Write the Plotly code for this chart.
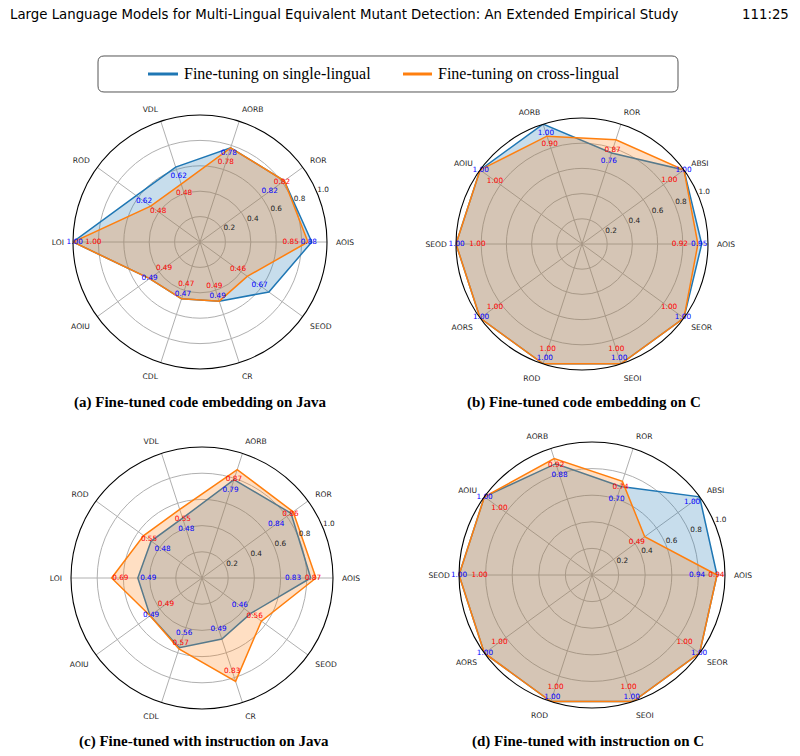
import plotly.graph_objects as go

# ---------------- data ----------------
CATS_JAVA = ["AOIS", "ROR", "AORB", "VDL", "ROD", "LOI", "AOIU", "CDL", "CR", "SEOD"]
CATS_C = ["AOIS", "ABSI", "ROR", "AORB", "AOIU", "SEOD", "AORS", "ROD", "SEOI", "SEOR"]

# (a) Fine-tuned code embedding on Java
A_SINGLE = [0.88, 0.82, 0.78, 0.62, 0.62, 1.00, 0.49, 0.47, 0.49, 0.67]
A_CROSS = [0.85, 0.82, 0.78, 0.48, 0.48, 1.00, 0.49, 0.47, 0.49, 0.46]
# (b) Fine-tuned code embedding on C
B_SINGLE = [0.95, 1.00, 0.76, 1.00, 1.00, 1.00, 1.00, 1.00, 1.00, 1.00]
B_CROSS = [0.92, 1.00, 0.87, 0.90, 1.00, 1.00, 1.00, 1.00, 1.00, 1.00]
# (c) Fine-tuned with instruction on Java
C_SINGLE = [0.83, 0.84, 0.79, 0.48, 0.48, 0.49, 0.49, 0.56, 0.49, 0.46]
C_CROSS = [0.87, 0.86, 0.87, 0.55, 0.55, 0.69, 0.49, 0.57, 0.83, 0.56]
# (d) Fine-tuned with instruction on C
D_SINGLE = [0.94, 1.00, 0.70, 0.88, 1.00, 1.00, 1.00, 1.00, 1.00, 1.00]
D_CROSS = [0.94, 0.49, 0.74, 0.92, 1.00, 1.00, 1.00, 1.00, 1.00, 1.00]

RADIAL_TICKS = [0.2, 0.4, 0.6, 0.8, 1.0]
RADIAL_TICK_TEXT = ["0.2", "0.4", "0.6", "0.8", "1.0"]

SERIES_NAMES = ["Fine-tuning on single-lingual", "Fine-tuning on cross-lingual"]
CAPTIONS = [
    "(a) Fine-tuned code embedding on Java",
    "(b) Fine-tuned code embedding on C",
    "(c) Fine-tuned with instruction on Java",
    "(d) Fine-tuned with instruction on C",
]
HEADER = "Large Language Models for Multi-Lingual Equivalent Mutant Detection: An Extended Empirical Study"
PAGE = "111:25"

# ---------------- label placement (radial offsets of value labels) ----------------
A_OFF_S = [-0.023, -0.142, -0.045, -0.077, -0.075, -0.013, 0.0, -0.035, -0.04, -0.09]
A_OFF_C = [-0.136, -0.022, -0.12, -0.075, -0.073, -0.16, -0.14, -0.12, -0.123, -0.09]
B_OFF_S = [-0.02, -0.004, -0.07, -0.074, -0.006, -0.005, -0.01, -0.045, -0.045, -0.01]
B_OFF_C = [-0.143, -0.144, -0.084, -0.071, -0.146, -0.17, -0.146, -0.12, -0.12, -0.146]
C_OFF_S = [-0.135, -0.14, -0.085, -0.092, -0.108, -0.08, -0.01, -0.12, -0.08, -0.103]
C_OFF_C = [-0.023, -0.025, -0.08, -0.077, -0.05, -0.067, -0.15, -0.043, -0.083, -0.063]
D_OFF_S = [-0.15, -0.07, -0.103, -0.09, -0.002, 0.0, -0.005, -0.033, -0.033, -0.005]
D_OFF_C = [-0.005, -0.073, -0.046, -0.05, -0.14, -0.155, -0.14, -0.112, -0.112, -0.14]

# ---------------- style ----------------
BLUE = "#1f77b4"
ORANGE = "#ff7f0e"
BLUE_FILL = "rgba(31,119,180,0.25)"
ORANGE_FILL = "rgba(255,127,14,0.25)"
GRID = "#b0b0b0"
SANS = "DejaVu Sans"
SERIF = "Liberation Serif, Times New Roman, serif"
HEAD_FONT = "Liberation Sans Narrow, DejaVu Sans Condensed, sans-serif"

W, H = 800, 756
# (center_x, center_y, radius) in pixels for each panel
PANELS = [(200, 242, 127), (582, 244, 126), (202, 578, 131), (592, 575, 133)]
CAPTION_Y = [403, 403, 741, 741]
CAPTION_X = [201, 584, 204, 588]

panels_data = [
    (CATS_JAVA, A_SINGLE, A_CROSS, A_OFF_S, A_OFF_C),
    (CATS_C, B_SINGLE, B_CROSS, B_OFF_S, B_OFF_C),
    (CATS_JAVA, C_SINGLE, C_CROSS, C_OFF_S, C_OFF_C),
    (CATS_C, D_SINGLE, D_CROSS, D_OFF_S, D_OFF_C),
]

fig = go.Figure()
layout_polars = {}

for k, (cats, s_vals, c_vals, off_s, off_c) in enumerate(panels_data):
    pid = "polar" if k == 0 else f"polar{k + 1}"
    n = len(cats)
    thetas = [i * 360.0 / n for i in range(n)]
    th_closed = thetas + [thetas[0]]

    fig.add_trace(go.Scatterpolar(
        r=s_vals + [s_vals[0]], theta=th_closed, mode="lines", fill="toself",
        fillcolor=BLUE_FILL, line=dict(color=BLUE, width=1.5), subplot=pid,
        showlegend=False, hoverinfo="skip", cliponaxis=False, name=SERIES_NAMES[0]))
    fig.add_trace(go.Scatterpolar(
        r=c_vals + [c_vals[0]], theta=th_closed, mode="lines", fill="toself",
        fillcolor=ORANGE_FILL, line=dict(color=ORANGE, width=1.5), subplot=pid,
        showlegend=False, hoverinfo="skip", cliponaxis=False, name=SERIES_NAMES[1]))
    # value labels
    fig.add_trace(go.Scatterpolar(
        r=[v + o for v, o in zip(s_vals, off_s)], theta=thetas, mode="text",
        text=[f"{v:.2f}" for v in s_vals], textposition="middle center",
        textfont=dict(color="blue", size=7.3, family=SANS), subplot=pid,
        showlegend=False, hoverinfo="skip", cliponaxis=False))
    fig.add_trace(go.Scatterpolar(
        r=[v + o for v, o in zip(c_vals, off_c)], theta=thetas, mode="text",
        text=[f"{v:.2f}" for v in c_vals], textposition="middle center",
        textfont=dict(color="red", size=7.3, family=SANS), subplot=pid,
        showlegend=False, hoverinfo="skip", cliponaxis=False))
    # radial tick labels at 22.5 degrees
    fig.add_trace(go.Scatterpolar(
        r=RADIAL_TICKS, theta=[22.5] * len(RADIAL_TICKS), mode="text",
        text=RADIAL_TICK_TEXT, textposition="top right",
        textfont=dict(color="#222222", size=7.3, family=SANS), subplot=pid,
        showlegend=False, hoverinfo="skip", cliponaxis=False))

    cx, cy, R = PANELS[k]
    layout_polars[pid] = dict(
        domain=dict(x=[(cx - R) / W, (cx + R) / W], y=[1 - (cy + R) / H, 1 - (cy - R) / H]),
        bgcolor="white",
        radialaxis=dict(range=[0, 1.0], tickvals=RADIAL_TICKS, showticklabels=False,
                        showline=False, ticks="", gridcolor=GRID, gridwidth=0.8),
        angularaxis=dict(rotation=0, direction="counterclockwise", thetaunit="degrees",
                         tickmode="array", tickvals=thetas, ticktext=cats,
                         showline=True, linecolor="black", linewidth=1.1,
                         gridcolor=GRID, gridwidth=0.8,
                         ticks="outside", ticklen=7, tickcolor="rgba(0,0,0,0)",
                         tickfont=dict(family=SANS, size=7.6, color="#222222")),
    )

annotations = []
for k, cap in enumerate(CAPTIONS):
    annotations.append(dict(
        text=f"<b>{cap}</b>", x=CAPTION_X[k] / W, y=1 - CAPTION_Y[k] / H,
        xref="paper", yref="paper", xanchor="center", yanchor="middle", showarrow=False,
        font=dict(family=SERIF, size=15, color="black")))

annotations.append(dict(
    text=HEADER, x=8 / W, y=1 - 13 / H, xref="paper", yref="paper",
    xanchor="left", yanchor="middle", showarrow=False,
    font=dict(family=HEAD_FONT, size=14.8, color="black")))
annotations.append(dict(
    text=PAGE, x=791 / W, y=1 - 13 / H, xref="paper", yref="paper",
    xanchor="right", yanchor="middle", showarrow=False,
    font=dict(family=HEAD_FONT, size=14.8, color="black")))

# legend (drawn manually)
LEG_Y = 74
legend_items = [(SERIES_NAMES[0], BLUE, 148, 178, 182), (SERIES_NAMES[1], ORANGE, 403, 432, 436)]
shapes = []
x0, x1, y0, y1, rr = 98, 678, 56, 92, 6
path = (f"M {x0 + rr},{y0} L {x1 - rr},{y0} Q {x1},{y0} {x1},{y0 + rr} "
        f"L {x1},{y1 - rr} Q {x1},{y1} {x1 - rr},{y1} L {x0 + rr},{y1} "
        f"Q {x0},{y1} {x0},{y1 - rr} L {x0},{y0 + rr} Q {x0},{y0} {x0 + rr},{y0} Z")


def px_path(p):
    out = []
    for tok in p.split(" "):
        if "," in tok:
            a, b = tok.split(",")
            out.append(f"{float(a) / W:.5f},{1 - float(b) / H:.5f}")
        else:
            out.append(tok)
    return " ".join(out)


shapes.append(dict(type="path", path=px_path(path), xref="paper", yref="paper",
                   line=dict(color="#555555", width=1), fillcolor="rgba(255,255,255,0.8)"))
for name, col, lx0, lx1, tx in legend_items:
    shapes.append(dict(type="line", x0=lx0 / W, x1=lx1 / W, y0=1 - LEG_Y / H, y1=1 - LEG_Y / H,
                       xref="paper", yref="paper", line=dict(color=col, width=3)))
    annotations.append(dict(text=name, x=tx / W, y=1 - LEG_Y / H, xref="paper", yref="paper",
                            xanchor="left", yanchor="middle", showarrow=False,
                            font=dict(family=SERIF, size=16, color="black")))

fig.update_layout(
    width=W, height=H, margin=dict(l=0, r=0, t=0, b=0),
    paper_bgcolor="white", plot_bgcolor="white", showlegend=False,
    annotations=annotations, shapes=shapes, **layout_polars)

fig.write_html("out.html")
